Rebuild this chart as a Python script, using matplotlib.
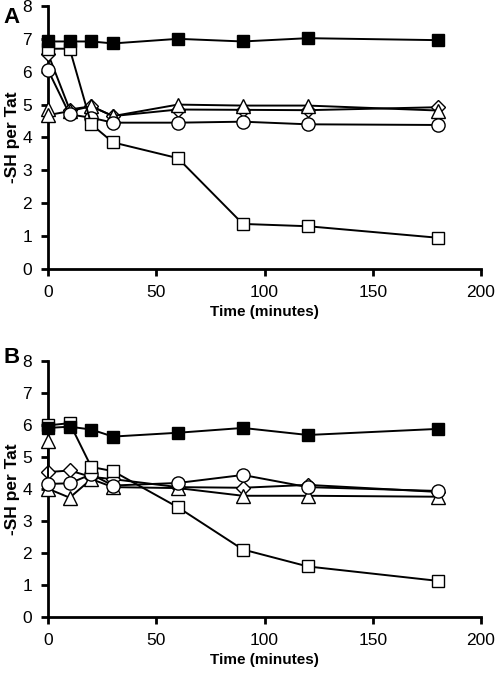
import matplotlib
matplotlib.use("Agg")
import matplotlib.pyplot as plt

plt.rcParams['font.family'] = ['Liberation Sans', 'DejaVu Sans']

time = [0, 10, 20, 30, 60, 90, 120, 180]
time_tri = [0, 0, 10, 20, 30, 60, 90, 120, 180]

# Panel A
a_filled_sq = [6.92, 6.92, 6.92, 6.86, 7.0, 6.92, 7.02, 6.96]
a_open_sq = [6.7, 6.7, 4.4, 3.85, 3.37, 1.37, 1.3, 0.95]
a_circle = [6.05, 4.7, 4.6, 4.45, 4.45, 4.48, 4.4, 4.38]
a_diamond = [6.55, 4.85, 4.95, 4.65, 4.85, 4.84, 4.83, 4.92]
a_triangle = [4.88, 4.68, 4.8, 4.95, 4.65, 5.0, 4.97, 4.97, 4.82]

# Panel B
b_filled_sq = [5.9, 5.94, 5.85, 5.63, 5.75, 5.9, 5.68, 5.87]
b_open_sq = [5.98, 6.05, 4.68, 4.55, 3.42, 2.1, 1.57, 1.12]
b_circle = [4.15, 4.17, 4.45, 4.1, 4.18, 4.43, 4.05, 3.93]
b_diamond = [4.52, 4.57, 4.37, 4.3, 4.05, 4.03, 4.12, 3.9]
b_triangle = [5.5, 4.0, 3.72, 4.3, 4.05, 4.02, 3.78, 3.78, 3.75]

xticks = [0, 50, 100, 150, 200]
yticks = [0, 1, 2, 3, 4, 5, 6, 7, 8]

fig = plt.figure(figsize=(4.96, 6.77), dpi=100)

def draw(ax, fs, os_, ci, di, tr, letter, ly):
    kw = dict(color='black', lw=1.4, clip_on=False, markeredgecolor='black',
              markeredgewidth=1.0, zorder=3)
    ax.plot(time, di, marker='D', ms=7.5, markerfacecolor='white', **kw)
    ax.plot(time_tri, tr, marker='^', ms=9.5, markerfacecolor='white', **kw)
    ax.plot(time, ci, marker='o', ms=9.5, markerfacecolor='white', **kw)
    ax.plot(time, os_, marker='s', ms=9, markerfacecolor='white', **kw)
    ax.plot(time, fs, marker='s', ms=9, markerfacecolor='black', **kw)
    ax.set_xlim(0, 200)
    ax.set_ylim(0, 8)
    ax.set_xticks(xticks)
    ax.set_yticks(yticks)
    for s in ['top', 'right']:
        ax.spines[s].set_visible(False)
    for s in ['left', 'bottom']:
        ax.spines[s].set_linewidth(2.0)
    ax.tick_params(axis='both', direction='out', length=5, width=2, labelsize=12.5, pad=6.5)
    ax.set_xlabel('Time (minutes)', fontsize=11, fontweight='bold', labelpad=4)
    ax.set_ylabel('-SH per Tat', fontsize=12.5, fontweight='bold', labelpad=1.5)
    ax.text(-0.102, ly, letter, transform=ax.transAxes, fontsize=16, fontweight='bold',
            ha='left', va='center')

axA = fig.add_axes([0.0968, 0.6027, 0.873, 0.3885])
draw(axA, a_filled_sq, a_open_sq, a_circle, a_diamond, a_triangle, 'A', 0.958)
axB = fig.add_axes([0.0968, 0.0891, 0.873, 0.378])
draw(axB, b_filled_sq, b_open_sq, b_circle, b_diamond, b_triangle, 'B', 1.012)

fig.savefig('out.png', dpi=100)
